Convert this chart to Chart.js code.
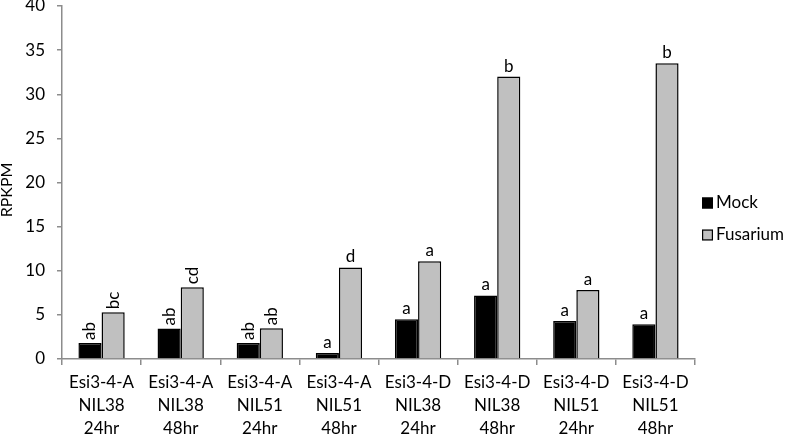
<!DOCTYPE html>
<html>
<head>
<meta charset="utf-8">
<script src="https://cdn.jsdelivr.net/npm/chart.js@4/dist/chart.umd.min.js"></script>
<style>
  html, body { margin: 0; padding: 0; background: #fff; }
  #wrap { width: 787px; height: 436px; position: relative; }
</style>
</head>
<body>
<div id="wrap"><canvas id="c" width="787" height="436"></canvas></div>
<script>
const categories = [
  ["Esi3-4-A", "NIL38", "24hr"],
  ["Esi3-4-A", "NIL38", "48hr"],
  ["Esi3-4-A", "NIL51", "24hr"],
  ["Esi3-4-A", "NIL51", "48hr"],
  ["Esi3-4-D", "NIL38", "24hr"],
  ["Esi3-4-D", "NIL38", "48hr"],
  ["Esi3-4-D", "NIL51", "24hr"],
  ["Esi3-4-D", "NIL51", "48hr"]
];
const seriesNames = ["Mock", "Fusarium"];
const mockValues = [1.82, 3.45, 1.82, 0.68, 4.5, 7.2, 4.31, 3.94];
const fusariumValues = [5.3, 8.14, 3.48, 10.37, 11.09, 32.0, 7.83, 33.5];
const mockLetters = ["ab", "ab", "ab", "a", "a", "a", "a", "a"];
const fusariumLetters = ["bc", "cd", "ab", "d", "a", "b", "a", "b"];
const yTicks = [0, 5, 10, 15, 20, 25, 30, 35, 40];
const yTitle = "RPKPM";

const FONT = "Lato, 'Open Sans', sans-serif";
const AXIS_GRAY = "#8c8c8c";

const letterPlugin = {
  id: "letters",
  afterDatasetsDraw(chart) {
    const ctx = chart.ctx;
    const letterSets = [mockLetters, fusariumLetters];
    ctx.save();
    ctx.fillStyle = "#000";
    ctx.font = "17px " + FONT;
    chart.data.datasets.forEach((ds, di) => {
      const meta = chart.getDatasetMeta(di);
      meta.data.forEach((el, i) => {
        const txt = letterSets[di][i];
        if (!txt) return;
        if (txt.length > 1) {
          ctx.save();
          ctx.translate(el.x, el.y - 3);
          ctx.rotate(-Math.PI / 2);
          ctx.textAlign = "left";
          ctx.textBaseline = "middle";
          ctx.fillText(txt, 0, 0);
          ctx.restore();
        } else {
          ctx.textAlign = "center";
          ctx.textBaseline = "alphabetic";
          ctx.fillText(txt, el.x, el.y - 5);
        }
      });
    });
    ctx.restore();
  }
};

const legendPlugin = {
  id: "customLegend",
  afterDraw(chart) {
    const ctx = chart.ctx;
    const a = chart.chartArea;
    const mid = (a.top + a.bottom) / 2;
    const x = a.right + 7;
    const rows = [mid + 20.5, mid + 52.5];
    ctx.save();
    ctx.font = "17px " + FONT;
    ctx.textAlign = "left";
    ctx.textBaseline = "middle";
    chart.data.datasets.forEach((ds, i) => {
      const yc = rows[i];
      ctx.fillStyle = ds.backgroundColor;
      ctx.fillRect(x, yc - 5.5, 11, 11);
      ctx.strokeStyle = "#000";
      ctx.lineWidth = 1.2;
      ctx.strokeRect(x + 0.6, yc - 4.9, 9.8, 9.8);
      ctx.fillStyle = "#000";
      ctx.fillText(ds.label, x + 14, yc);
    });
    ctx.restore();
  }
};

const titlePlugin = {
  id: "yTitle",
  afterDraw(chart) {
    const ctx = chart.ctx;
    const a = chart.chartArea;
    ctx.save();
    ctx.font = "16px " + FONT;
    ctx.fillStyle = "#000";
    ctx.textAlign = "center";
    ctx.textBaseline = "middle";
    ctx.translate(7, (a.top + a.bottom) / 2 + 7.5);
    ctx.rotate(-Math.PI / 2);
    ctx.fillText(yTitle, 0, 0);
    ctx.restore();
  }
};

new Chart(document.getElementById("c"), {
  type: "bar",
  data: {
    labels: categories,
    datasets: [
      {
        label: seriesNames[0],
        data: mockValues,
        backgroundColor: "#000000",
        borderColor: "#000000",
        borderWidth: 1.5,
        categoryPercentage: 0.585,
        barPercentage: 1.0
      },
      {
        label: seriesNames[1],
        data: fusariumValues,
        backgroundColor: "#c0c0c0",
        borderColor: "#000000",
        borderWidth: 1.5,
        categoryPercentage: 0.585,
        barPercentage: 1.0
      }
    ]
  },
  options: {
    responsive: false,
    animation: false,
    devicePixelRatio: 1,
    layout: { padding: { left: 0, top: 6, right: 92, bottom: 0 } },
    plugins: {
      legend: { display: false },
      tooltip: { enabled: false },
      title: { display: false }
    },
    scales: {
      x: {
        grid: {
          display: true,
          offset: true,
          drawOnChartArea: false,
          drawTicks: true,
          tickLength: 6,
          tickColor: AXIS_GRAY,
          lineWidth: 1.5
        },
        border: { display: true, color: AXIS_GRAY, width: 1.5 },
        ticks: {
          color: "#000",
          font: { family: FONT, size: 17, lineHeight: 1.36 },
          padding: 6,
          maxRotation: 0,
          autoSkip: false
        },
        afterFit(scale) {
          scale.height = 77;
          scale.paddingLeft = 0;
          scale.paddingRight = 0;
        }
      },
      y: {
        min: 0,
        max: 40,
        afterBuildTicks(scale) {
          scale.ticks = yTicks.map(v => ({ value: v }));
        },
        grid: {
          display: true,
          drawOnChartArea: false,
          drawTicks: true,
          tickLength: 5,
          tickColor: AXIS_GRAY,
          lineWidth: 1.5
        },
        border: { display: true, color: AXIS_GRAY, width: 1.5 },
        ticks: {
          color: "#000",
          font: { family: FONT, size: 17 },
          padding: 12
        },
        afterFit(scale) {
          scale.width = 62;
          scale.paddingTop = 0;
          scale.paddingBottom = 0;
        }
      }
    }
  },
  plugins: [letterPlugin, legendPlugin, titlePlugin]
});
</script>
</body>
</html>
